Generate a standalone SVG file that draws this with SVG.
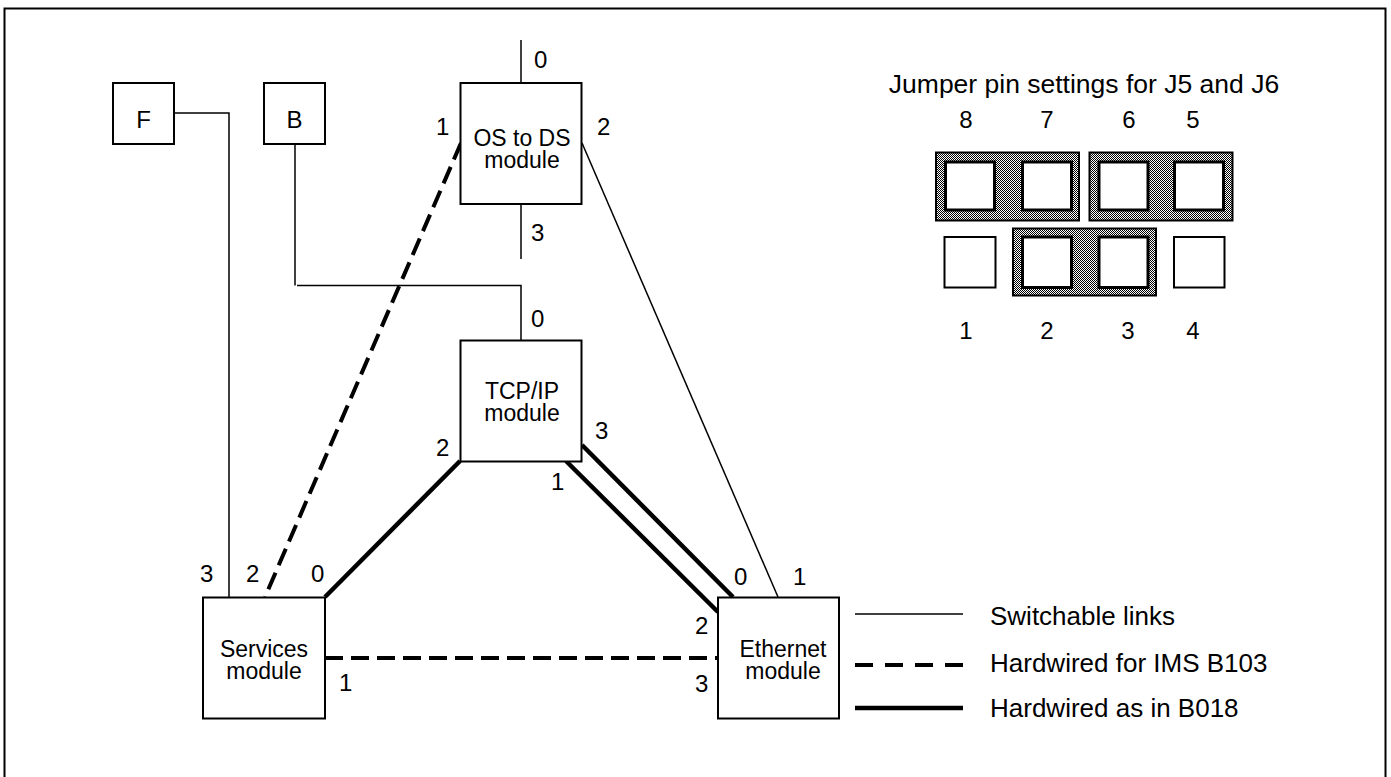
<svg xmlns="http://www.w3.org/2000/svg" width="1391" height="777" viewBox="0 0 1391 777">
<defs>
<pattern id="dither" width="2" height="2" patternUnits="userSpaceOnUse">
<rect width="2" height="2" fill="#fff"/>
<rect x="0" y="0" width="1" height="1" fill="#000"/>
<rect x="1" y="1" width="1" height="1" fill="#000"/>
</pattern>
</defs>
<style>
text{font-family:"Liberation Sans",Arial,sans-serif;fill:#000}
.lbl{font-size:24px}
.mod{font-size:23px}
.big{font-size:26px}
.title{font-size:26.5px}
.mid{text-anchor:middle}
.box{fill:#fff;stroke:#000;stroke-width:2}
.thin{fill:none;stroke:#000;stroke-width:1.5}
.thick{fill:none;stroke:#000;stroke-width:4.5}
.dash{fill:none;stroke:#000;stroke-width:4;stroke-dasharray:18 8}
.sh{fill:url(#dither);stroke:#000;stroke-width:2}
.pin{fill:#fff;stroke:#000;stroke-width:3}
.pinf{fill:#fff;stroke:#000;stroke-width:2}
</style>
<rect x="4.5" y="8.5" width="1381" height="800" fill="#fff" stroke="#000" stroke-width="2"/>

<g id="connectors">
<polyline class="thin" points="174,113 229,113 229,597"/>
<polyline class="thin" points="295,144 295,285.5"/>
<polyline class="thin" points="297,285.5 521,285.5 521,340"/>
<line class="thin" x1="521" y1="40" x2="521" y2="83"/>
<line class="thin" x1="521" y1="204" x2="521" y2="259"/>
<line class="thick" x1="325" y1="597" x2="460" y2="461"/>
<line class="thick" x1="582" y1="445" x2="733" y2="597"/>
<line class="thick" x1="566" y1="461" x2="718" y2="612"/>
<line class="dash" x1="461" y1="143" x2="265" y2="597"/>
<line class="thin" x1="582" y1="143" x2="778" y2="597"/>
<line class="dash" x1="325" y1="658" x2="718" y2="658"/>
</g>

<g id="node-F">
<rect class="box" x="113" y="83" width="61" height="61"/>
<text class="lbl mid" x="143.5" y="128">F</text>
</g>
<g id="node-B">
<rect class="box" x="264" y="83" width="61" height="61"/>
<text class="lbl mid" x="294.5" y="128">B</text>
</g>
<g id="node-osds">
<rect class="box" x="460.5" y="83" width="121" height="121"/>
<text class="mod mid" x="522" y="146">OS to DS</text>
<text class="mod mid" x="522" y="168">module</text>
<text class="lbl" x="534" y="68">0</text>
<text class="lbl" x="436" y="135">1</text>
<text class="lbl" x="597" y="135">2</text>
<text class="lbl" x="531" y="241">3</text>
</g>
<g id="node-tcpip">
<rect class="box" x="460.5" y="340.5" width="121" height="121"/>
<text class="mod mid" x="522" y="399">TCP/IP</text>
<text class="mod mid" x="522" y="421">module</text>
<text class="lbl" x="531" y="327">0</text>
<text class="lbl" x="551" y="490">1</text>
<text class="lbl" x="436" y="456">2</text>
<text class="lbl" x="595" y="439">3</text>
</g>
<g id="node-services">
<rect class="box" x="203" y="597.5" width="122" height="121"/>
<text class="mod mid" x="264" y="657">Services</text>
<text class="mod mid" x="264" y="679">module</text>
<text class="lbl" x="311" y="582">0</text>
<text class="lbl" x="339" y="691">1</text>
<text class="lbl" x="246" y="582">2</text>
<text class="lbl" x="200" y="582">3</text>
</g>
<g id="node-ethernet">
<rect class="box" x="718" y="597.5" width="121" height="121"/>
<text class="mod mid" x="783" y="657">Ethernet</text>
<text class="mod mid" x="783" y="679">module</text>
<text class="lbl" x="734" y="585">0</text>
<text class="lbl" x="793" y="585">1</text>
<text class="lbl" x="695" y="634">2</text>
<text class="lbl" x="695" y="692">3</text>
</g>

<g id="jumper">
<text class="title mid" x="1084" y="93">Jumper pin settings for J5 and J6</text>
<text class="lbl mid" x="966" y="128">8</text>
<text class="lbl mid" x="1047" y="128">7</text>
<text class="lbl mid" x="1129" y="128">6</text>
<text class="lbl mid" x="1193" y="128">5</text>
<rect class="sh" x="936" y="152.5" width="143" height="68"/>
<rect class="sh" x="1089.5" y="152.5" width="143" height="68"/>
<rect class="sh" x="1013" y="228.5" width="143" height="67"/>
<rect class="pin" x="945.5" y="162" width="49" height="48"/>
<rect class="pin" x="1022.5" y="162" width="49" height="48"/>
<rect class="pin" x="1099" y="162" width="49" height="48"/>
<rect class="pin" x="1174.5" y="162" width="49" height="48"/>
<rect class="pinf" x="944.5" y="237" width="51" height="50.5"/>
<rect class="pin" x="1022.5" y="237" width="49" height="50.5"/>
<rect class="pin" x="1099" y="237" width="49" height="50.5"/>
<rect class="pinf" x="1174" y="237" width="50.5" height="50.5"/>
<text class="lbl mid" x="966" y="339">1</text>
<text class="lbl mid" x="1047" y="339">2</text>
<text class="lbl mid" x="1128" y="339">3</text>
<text class="lbl mid" x="1193" y="339">4</text>
</g>

<g id="legend">
<line class="thin" x1="855" y1="614" x2="963" y2="614"/>
<line class="dash" x1="855" y1="665" x2="963" y2="665" style="stroke-dasharray:18 12"/>
<line class="thick" x1="855" y1="708" x2="963" y2="708"/>
<text class="big" x="990" y="625">Switchable links</text>
<text class="big" x="990" y="672">Hardwired for IMS B103</text>
<text class="big" x="990" y="717">Hardwired as in B018</text>
</g>
</svg>
